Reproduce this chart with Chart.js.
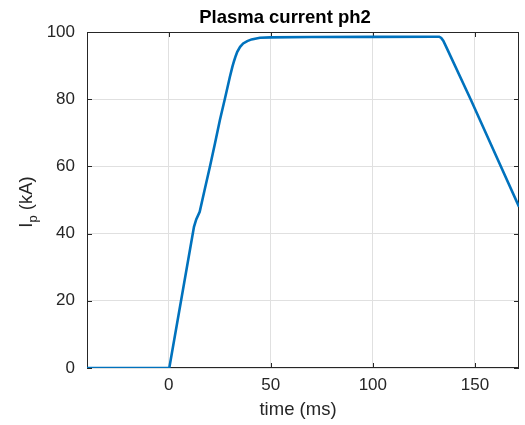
<!DOCTYPE html>
<html>
<head>
<meta charset="utf-8">
<title>Plasma current ph2</title>
<script src="https://cdn.jsdelivr.net/npm/chart.js@4/dist/chart.umd.min.js"></script>
<style>
  body { margin: 0; background: #fff; }
  canvas { display: block; }
</style>
</head>
<body>
<canvas id="ipChart" width="525" height="425"></canvas>
<script>
// time (ms) and plasma current (kA)
const timeMs = [-40, 0.3, 12.4, 13.5, 15.2, 17.6, 20.2, 22.7, 25.1, 27.6, 30.0, 31.2, 32.0,
                32.8, 33.6, 35.0, 36.5, 38.5, 40.6, 44.7, 50.0, 70.0, 100.0, 130.0,
                132.5, 133.5, 134.5, 136.0, 147.9, 171.6];
const currentKA = [0, 0, 42.0, 44.2, 46.5, 53.0, 59.9, 66.9, 73.8, 80.3, 86.7, 89.6, 91.3,
                   92.8, 94.1, 95.6, 96.6, 97.3, 97.8, 98.3, 98.4, 98.5, 98.55, 98.6,
                   98.6, 98.25, 97.4, 95.5, 80.0, 48.0];
const xTicks = [0, 50, 100, 150];
const yTicks = [0, 20, 40, 60, 80, 100];

const axisColor = '#262626';
const gridColor = '#e0e0e0';
const fontFamily = '"Liberation Sans", Arial, Helvetica, sans-serif';

const points = timeMs.map((t, i) => ({ x: t, y: currentKA[i] }));

// box, inward tick marks and text labels, MATLAB style
const axesDecor = {
  id: 'axesDecor',
  beforeDatasetsDraw(chart) {
    const { ctx, chartArea: a, scales } = chart;
    ctx.save();
    ctx.strokeStyle = axisColor;
    ctx.lineWidth = 1;
    ctx.strokeRect(a.left + 0.5, a.top + 0.5, a.right - a.left - 1, a.bottom - a.top - 1);
    ctx.beginPath();
    xTicks.forEach(v => {
      const px = Math.round(scales.x.getPixelForValue(v)) + 0.5;
      ctx.moveTo(px, a.bottom); ctx.lineTo(px, a.bottom - 5);
      ctx.moveTo(px, a.top); ctx.lineTo(px, a.top + 5);
    });
    yTicks.forEach(v => {
      const py = Math.round(scales.y.getPixelForValue(v)) + 0.5;
      ctx.moveTo(a.left, py); ctx.lineTo(a.left + 5, py);
      ctx.moveTo(a.right, py); ctx.lineTo(a.right - 5, py);
    });
    ctx.stroke();
    ctx.restore();
  },
  afterDraw(chart) {
    const { ctx } = chart;
    ctx.save();
    ctx.fillStyle = '#000';
    ctx.textAlign = 'center';
    ctx.textBaseline = 'alphabetic';
    ctx.font = 'bold 18.5px ' + fontFamily;
    ctx.fillText('Plasma current ph2', 285, 23);

    ctx.fillStyle = axisColor;
    ctx.font = '18.5px ' + fontFamily;
    ctx.fillText('time (ms)', 298, 415);

    // y label: I with subscript p, then (kA)
    ctx.translate(32, 202);
    ctx.rotate(-Math.PI / 2);
    ctx.textAlign = 'left';
    const mainFont = '18.5px ' + fontFamily;
    const subFont = '13px ' + fontFamily;
    ctx.font = mainFont;
    const wI = ctx.measureText('I').width;
    const wRest = ctx.measureText(' (kA)').width;
    ctx.font = subFont;
    const wP = ctx.measureText('p').width;
    let x0 = -(wI + wP + wRest) / 2;
    ctx.font = mainFont;
    ctx.fillText('I', x0, 0);
    ctx.font = subFont;
    ctx.fillText('p', x0 + wI, 5);
    ctx.font = mainFont;
    ctx.fillText(' (kA)', x0 + wI + wP, 0);
    ctx.restore();
  }
};

new Chart(document.getElementById('ipChart'), {
  type: 'line',
  data: {
    datasets: [{
      label: 'Ip',
      data: points,
      borderColor: '#0072BD',
      borderWidth: 2.6,
      pointRadius: 0,
      tension: 0,
      fill: false
    }]
  },
  options: {
    responsive: false,
    animation: false,
    layout: { padding: { top: 32, right: 6, left: 0, bottom: 0 } },
    plugins: {
      legend: { display: false },
      title: { display: false },
      tooltip: { enabled: false }
    },
    scales: {
      x: {
        type: 'linear',
        min: -40,
        max: 171.6,
        afterFit: scale => { scale.height = 57; },
        afterBuildTicks: scale => { scale.ticks = xTicks.map(v => ({ value: v })); },
        grid: { color: gridColor, drawTicks: false },
        border: { display: false },
        ticks: {
          padding: 7,
          color: axisColor,
          font: { family: fontFamily, size: 17 }
        }
      },
      y: {
        type: 'linear',
        min: 0,
        max: 100,
        afterFit: scale => { scale.width = 87; },
        afterBuildTicks: scale => { scale.ticks = yTicks.map(v => ({ value: v })); },
        grid: { color: gridColor, drawTicks: false },
        border: { display: false },
        ticks: {
          padding: 12,
          color: axisColor,
          font: { family: fontFamily, size: 17 }
        }
      }
    }
  },
  plugins: [axesDecor]
});
</script>
</body>
</html>
